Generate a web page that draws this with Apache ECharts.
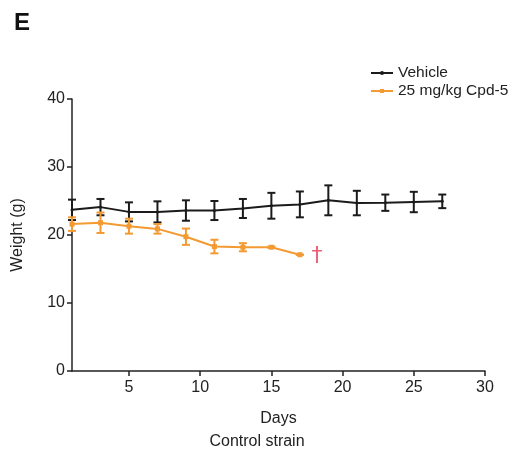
<!DOCTYPE html>
<html>
<head>
<meta charset="utf-8">
<script src="https://cdn.jsdelivr.net/npm/echarts@6/dist/echarts.min.js"></script>
<style>
  html, body { margin: 0; padding: 0; background: #fff; }
  #main { width: 514px; height: 459px; }
</style>
</head>
<body>
<div id="main"></div>
<script>
const vehicleDays = [1, 3, 5, 7, 9, 11, 13, 15, 17, 19, 21, 23, 25, 27]
const vehicleMean = [23.7, 24.1, 23.4, 23.4, 23.6, 23.6, 23.9, 24.3, 24.5, 25.1, 24.7, 24.75, 24.85, 24.95]
const vehicleErr = [1.5, 1.2, 1.4, 1.55, 1.5, 1.4, 1.4, 1.9, 1.9, 2.2, 1.8, 1.2, 1.5, 1.0]
const cpdDays = [1, 3, 5, 7, 9, 11, 13, 15, 17]
const cpdMean = [21.6, 21.8, 21.3, 20.9, 19.75, 18.3, 18.2, 18.2, 17.1]
const cpdErr = [1.0, 1.5, 1.1, 0.7, 1.2, 1.0, 0.6, 0.1, 0]
const xTicks = [5, 10, 15, 20, 25, 30]
const deathMark = [18.2, 16.8]

const black = '#1b1b1b'
const orange = '#f39a32'
const font = 'Liberation Sans, Arial, sans-serif'

const myChart = echarts.init(document.querySelector('#main'))

// error bars drawn through the axis scales
function errorBars(days, mean, err, color) {
    const data = days.map((d, i) => [d, mean[i] - err[i], mean[i] + err[i]])
    return {
        type: 'custom',
        data: data,
        z: 3,
        silent: true,
        renderItem: (params, api) => {
            const low = api.coord([api.value(0), api.value(1)])
            const high = api.coord([api.value(0), api.value(2)])
            const half = 4
            const style = { stroke: color, lineWidth: 2 }
            return {
                type: 'group',
                children: [
                    { type: 'line', shape: { x1: low[0], y1: low[1], x2: high[0], y2: high[1] }, style },
                    { type: 'line', shape: { x1: low[0] - half, y1: low[1], x2: low[0] + half, y2: low[1] }, style },
                    { type: 'line', shape: { x1: high[0] - half, y1: high[1], x2: high[0] + half, y2: high[1] }, style }
                ]
            }
        }
    }
}

myChart.setOption({
    animation: false,
    textStyle: { fontFamily: font },
    title: {
        text: 'E',
        left: 9,
        top: 6,
        textStyle: { fontSize: 24, fontWeight: 'bold', color: '#111', fontFamily: font }
    },
    legend: {
        orient: 'vertical',
        left: 370,
        top: 65,
        padding: 0,
        itemWidth: 22,
        itemHeight: 5,
        itemGap: 2,
        textStyle: { fontSize: 15.5, color: '#222', fontFamily: font },
        data: ['Vehicle', '25 mg/kg Cpd-5']
    },
    grid: { left: 72, right: 29, top: 99, bottom: 88 },
    xAxis: {
        type: 'value',
        min: 1,
        max: 30,
        name: 'Days',
        nameLocation: 'middle',
        nameGap: 40,
        nameTextStyle: { fontSize: 16, color: '#222' },
        axisLine: { lineStyle: { color: '#222', width: 1.5 } },
        axisTick: { show: true, length: 5, customValues: xTicks, lineStyle: { color: '#222', width: 1.5 } },
        axisLabel: { customValues: xTicks, fontSize: 16, color: '#222', margin: 9 },
        splitLine: { show: false }
    },
    yAxis: {
        type: 'value',
        min: 0,
        max: 40,
        interval: 10,
        name: 'Weight (g)',
        nameLocation: 'middle',
        nameGap: 46,
        nameTextStyle: { fontSize: 16, color: '#222' },
        axisLine: { show: true, lineStyle: { color: '#222', width: 1.5 } },
        axisTick: { show: true, length: 5, lineStyle: { color: '#222', width: 1.5 } },
        axisLabel: { fontSize: 16, color: '#222', margin: 7 },
        splitLine: { show: false }
    },
    graphic: [{
        type: 'text',
        left: 'center',
        top: 434,
        style: { text: 'Control strain', fontSize: 16, fill: '#222', fontFamily: font }
    }],
    series: [
        {
            name: 'Vehicle',
            type: 'line',
            data: vehicleDays.map((d, i) => [d, vehicleMean[i]]),
            symbol: 'circle',
            symbolSize: 3,
            lineStyle: { color: black, width: 2 },
            itemStyle: { color: black },
            z: 4
        },
        {
            name: '25 mg/kg Cpd-5',
            type: 'line',
            data: cpdDays.map((d, i) => [d, cpdMean[i]]),
            symbol: 'rect',
            symbolSize: 5,
            lineStyle: { color: orange, width: 2 },
            itemStyle: { color: orange },
            z: 4
        },
        errorBars(vehicleDays, vehicleMean, vehicleErr, black),
        errorBars(cpdDays, cpdMean, cpdErr, orange),
        {
            type: 'scatter',
            data: [deathMark],
            symbolSize: 1,
            itemStyle: { color: 'rgba(0,0,0,0)' },
            silent: true,
            label: {
                show: true,
                position: 'inside',
                formatter: '†',
                fontSize: 22,
                color: '#e8334f',
                fontFamily: 'DejaVu Sans'
            }
        }
    ]
})
</script>
</body>
</html>
